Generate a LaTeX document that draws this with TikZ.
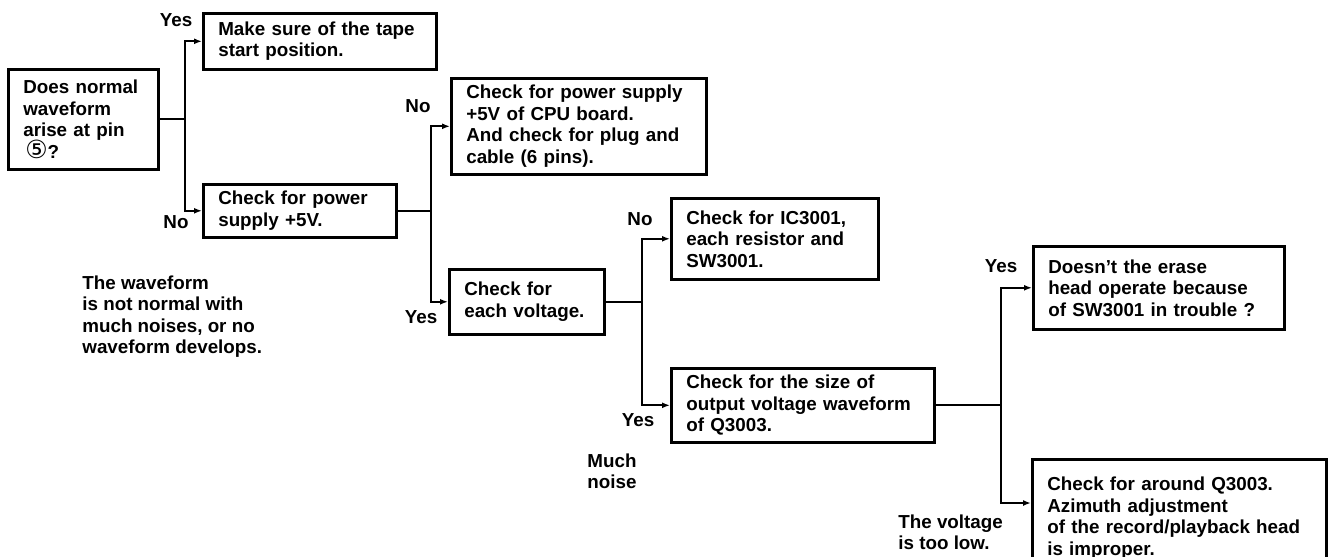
\documentclass[tikz,border=0pt]{standalone}
\usepackage{fontspec}
\setmainfont{Liberation Sans}
\newfontfamily\circfont{DejaVu Sans}
\usepackage{tikz}
\usetikzlibrary{shapes, arrows.meta, positioning, calc}
\newcommand{\txtfont}{\bfseries\fontsize{9.4pt}{10.75pt}\selectfont}

\begin{document}
\begin{tikzpicture}[x=0.5pt, y=-0.5pt,
    box/.style={draw, line width=1.3pt, anchor=north west, align=left, inner xsep=7.5pt, inner ysep=0pt, font=\txtfont},
    lbl/.style={font=\txtfont, inner sep=0pt},
    note/.style={font=\txtfont, inner sep=0pt, anchor=north west, align=left},
    link/.style={line width=1pt},
    arr/.style={line width=1pt, -{Latex[length=4pt, width=3pt]}}]
  \useasboundingbox (0,0) rectangle (1334,557);

  % boxes
  \node[box, text width=60pt, minimum height=50pt] (ask) at (7,68)
    {Does normal\\ waveform\\ arise at pin\\ \hspace{1pt}\smash{\circfont\mdseries\fontsize{12.5pt}{10pt}\selectfont ⑤}?};
  \node[box, text width=101.5pt, minimum height=28pt] (tape) at (202,12)
    {Make sure of the tape\\ start position.};
  \node[box, text width=81.5pt, minimum height=26.5pt] (psu) at (202,183)
    {Check for power\\ supply +5V.};
  \node[box, text width=112.5pt, minimum height=48pt] (cpu) at (450,77)
    {Check for power supply\\ +5V of CPU board.\\ And check for plug and\\ cable (6 pins).};
  \node[box, text width=62.5pt, minimum height=32.5pt] (volt) at (448,268)
    {Check for\\ each voltage.};
  \node[box, text width=88.5pt, minimum height=40.5pt] (ic) at (670,197)
    {Check for IC3001,\\ each resistor and\\ SW3001.};
  \node[box, text width=116.5pt, minimum height=37pt] (outw) at (670,367)
    {Check for the size of\\ output voltage waveform\\ of Q3003.};
  \node[box, text width=110.5pt, minimum height=41.5pt] (erase) at (1032,245)
    {Doesn’t the erase\\ head operate because\\ of SW3001 in trouble ?};
  \node[box, text width=132pt, minimum height=59pt] (azim) at (1031,458)
    {Check for around Q3003.\\ Azimuth adjustment\\ of the record/playback head\\ is improper.};

  % branches
  \draw[link] (ask.east) -- ++(12.5pt,0) coordinate (j1);
  \draw[arr] (j1) |- (tape.west);
  \draw[arr] (j1) |- (psu.west);
  \draw[link] (psu.east) -- ++(16.5pt,0) coordinate (j2);
  \draw[arr] (j2) |- (cpu.west);
  \draw[arr] (j2) |- (volt.west);
  \draw[link] (volt.east) -- ++(18pt,0) coordinate (j3);
  \draw[arr] (j3) |- (ic.west);
  \draw[arr] (j3) |- (outw.west);
  \draw[link] (outw.east) -- ++(32.5pt,0) coordinate (j4);
  \draw[arr] (j4) |- (erase.west);
  \draw[arr] (j4) |- ([yshift=-22.5pt]azim.north west);

  % answers
  \node[lbl] (yes1) at (176,20) {Yes};
  \node[lbl] (no1) at (176,222) {No};
  \node[lbl] (no2) at (418,106) {No};
  \node[lbl] (yes2) at (421,317) {Yes};
  \node[lbl] (no3) at (640,219) {No};
  \node[lbl] (yes3) at (638,420) {Yes};
  \node[lbl] (yes4) at (1001,266) {Yes};

  % remarks
  \node[note] (nowave) at (82,275) {The waveform\\ is not normal with\\ much noises, or no\\ waveform develops.};
  \node[note] (noise) at (587,453) {Much\\ noise};
  \node[note] (low) at (898,514) {The voltage\\ is too low.};
\end{tikzpicture}
\end{document}
